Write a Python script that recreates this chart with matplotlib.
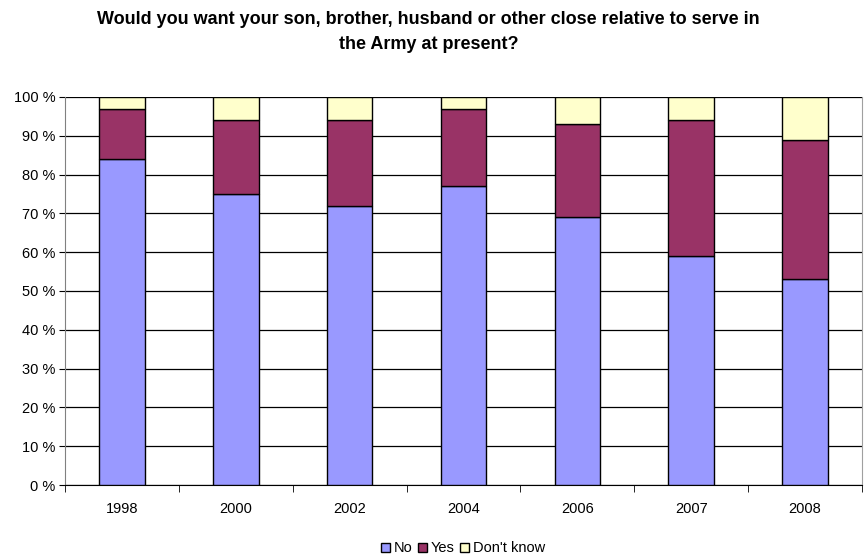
import matplotlib
matplotlib.use("Agg")
import matplotlib.pyplot as plt
import numpy as np
from matplotlib.ticker import FixedLocator, FuncFormatter

plt.rcParams['font.family'] = ['Liberation Sans', 'DejaVu Sans']

years = ["1998", "2000", "2002", "2004", "2006", "2007", "2008"]
no_vals = [84, 75, 72, 77, 69, 59, 53]
yes_vals = [13, 19, 22, 20, 24, 35, 36]
dk_vals = [3, 6, 6, 3, 7, 6, 11]

colors = {"No": "#9999FF", "Yes": "#993366", "Don't know": "#FFFFCC"}

fig = plt.figure(figsize=(8.64, 5.54), dpi=100)
ax = fig.add_axes([0.0755, 0.1245, 0.922, 0.7005])

x = np.arange(len(years))
bottom = np.zeros(len(years))
handles = []
for name, vals in [("No", no_vals), ("Yes", yes_vals), ("Don't know", dk_vals)]:
    b = ax.bar(x, vals, width=0.4, bottom=bottom, color=colors[name],
               edgecolor="black", linewidth=1.0, label=name, zorder=3)
    handles.append(b)
    bottom = bottom + np.array(vals)

ax.set_xlim(-0.5, len(years) - 0.5)
ax.set_ylim(0, 100)
ax.yaxis.set_major_locator(FixedLocator(range(0, 101, 10)))
ax.yaxis.set_major_formatter(FuncFormatter(lambda v, p: f"{int(v)} %"))
ax.grid(axis="y", color="black", linewidth=0.9, zorder=0)
ax.set_axisbelow(True)

# category labels centred, tick marks between categories
ax.set_xticks(x)
ax.set_xticklabels(years, fontsize=10.5)
ax.tick_params(axis="x", length=0, pad=12)
ax.set_xticks(np.arange(-0.5, len(years)), minor=True)
ax.tick_params(axis="x", which="minor", length=5, color="black", direction="out")
ax.tick_params(axis="y", labelsize=10.5, length=4, color="black", direction="out", pad=3)

ax.spines["top"].set_visible(False)
ax.spines["right"].set_color("#a0a0a0")
ax.spines["left"].set_color("#808080")
ax.spines["bottom"].set_color("black")

fig.text(0.496, 0.98, "Would you want your son, brother, husband or other close relative to serve in\nthe Army at present?",
         ha="center", va="top", fontsize=13, fontweight="bold", linespacing=1.6)

fig.legend(handles=handles, labels=["No", "Yes", "Don't know"], loc="lower center",
           bbox_to_anchor=(0.536, -0.026), ncol=3, frameon=False, fontsize=10.5,
           handlelength=0.6, handleheight=0.6, handletextpad=0.25, columnspacing=0.4)

fig.savefig("out.png", dpi=100, facecolor="white")
